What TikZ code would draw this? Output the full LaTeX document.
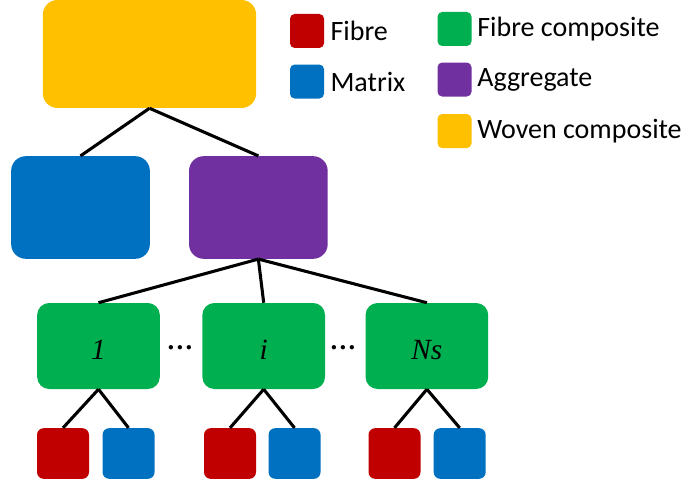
\documentclass[tikz,border=0pt]{standalone}
\usepackage{fontspec}
\setmainfont{Carlito}
\newfontfamily\labelfont{Liberation Serif}
\usetikzlibrary{positioning}

\definecolor{fibre}{HTML}{C00000}
\definecolor{matrix}{HTML}{0070C0}
\definecolor{fibrecomp}{HTML}{00B050}
\definecolor{aggregate}{HTML}{7030A0}
\definecolor{woven}{HTML}{FFC000}

\begin{document}
\begin{tikzpicture}
		[x=0.75pt, y=-0.75pt,
		 wovenbox/.style={rectangle, rounded corners=11pt, minimum width=160pt, minimum height=81pt},
		 bigbox/.style={rectangle, rounded corners=11pt, minimum width=104pt, minimum height=77pt},
		 compbox/.style={rectangle, rounded corners=9pt, minimum width=92pt, minimum height=64.5pt, fill=fibrecomp, text height=19.5pt, text depth=0pt, font={\labelfont\itshape\fontsize{22}{26}\selectfont}},
		 cellbox/.style={rectangle, rounded corners=5pt, minimum width=39pt, minimum height=38pt},
		 keybox/.style={rectangle, rounded corners=3.5pt, minimum size=25.5pt},
		 keytext/.style={inner sep=0pt, font=\fontsize{21}{24}\selectfont},
		 gap/.style={font={\labelfont\bfseries\fontsize{20}{24}\selectfont}},
		 link/.style={line width=2.3pt}]
		\useasboundingbox (0,0) rectangle (692,488);

		% tree
		\node[wovenbox, fill=woven] (woven) at (149.5,54) {};
		\node[bigbox, fill=matrix] (mat) at (80.5,207.5) {};
		\node[bigbox, fill=aggregate, right=29pt of mat] (agg) {};
		\node[compbox] (fc1) at (98.5,346) {1};
		\node[compbox, right=31.5pt of fc1] (fci) {i};
		\node[compbox, right=30pt of fci] (fcn) {Ns};
		\node[gap] (dots1) at (180,348) {\dots};
		\node[gap] (dots2) at (343,348) {\dots};

		\node[cellbox, fill=fibre] (f1) at (63,453.5) {};
		\node[cellbox, fill=matrix, right=9.75pt of f1] (m1) {};
		\node[cellbox, fill=fibre] (fi) at (230,453.5) {};
		\node[cellbox, fill=matrix, right=9pt of fi] (mi) {};
		\node[cellbox, fill=fibre] (fn) at (394.5,453.5) {};
		\node[cellbox, fill=matrix, right=9.5pt of fn] (mn) {};

		\draw[link] (woven.south) -- (mat.north);
		\draw[link] (woven.south) -- (agg.north);
		\draw[link] (agg.south) -- (fc1.north);
		\draw[link] (agg.south) -- (fci.north);
		\draw[link] (agg.south) -- (fcn.north);
		\draw[link] (fc1.south) -- (f1.north);
		\draw[link] (fc1.south) -- (m1.north);
		\draw[link] (fci.south) -- (fi.north);
		\draw[link] (fci.south) -- (mi.north);
		\draw[link] (fcn.south) -- (fn.north);
		\draw[link] (fcn.south) -- (mn.north);

		% legend
		\node[keybox, fill=fibre] (kfibre) at (307,31) {};
		\node[keybox, fill=matrix, below=12pt of kfibre] (kmatrix) {};
		\node[keytext, right=4.5pt of kfibre] (tfibre) {Fibre};
		\node[keytext, right=4.5pt of kmatrix] (tmatrix) {Matrix};
		\node[keybox, fill=fibrecomp] (kcomp) at (454.5,29) {};
		\node[keybox, fill=aggregate, below=12pt of kcomp] (kagg) {};
		\node[keybox, fill=woven, below=12.75pt of kagg] (kwoven) {};
		\node[keytext, right=4pt of kcomp] (tcomp) {Fibre composite};
		\node[keytext, right=4pt of kagg] (tagg) {Aggregate};
		\node[keytext, right=4pt of kwoven] (twoven) {Woven composite};
	\end{tikzpicture}
\end{document}
